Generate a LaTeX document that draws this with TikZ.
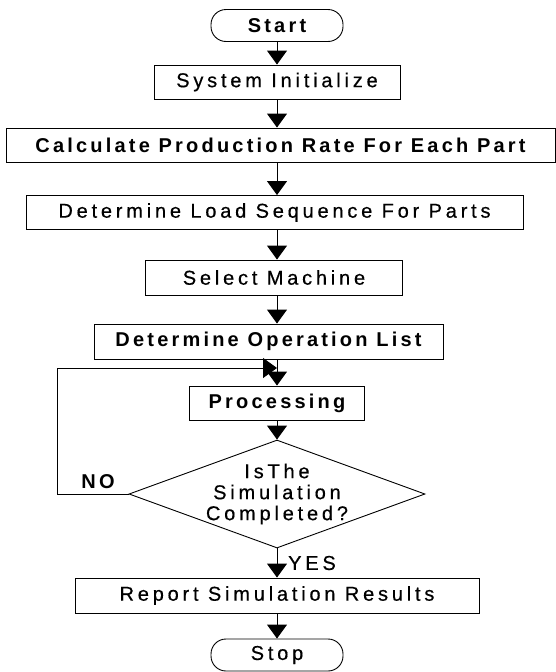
\documentclass[tikz,border=0pt]{standalone}
\usepackage{fontspec}
\setmainfont{Liberation Sans}[LetterSpace=19, FakeBold=0.5]
\newfontfamily\heavyfont{Liberation Sans Bold}[LetterSpace=16]
\usetikzlibrary{arrows.meta,shapes.geometric}
\begin{document}
\begin{tikzpicture}[x=1pt,y=-1pt,
  every node/.style={font=\fontsize{20}{21}\selectfont, inner sep=0pt},
  bold/.style={font=\fontsize{20}{21}\selectfont\heavyfont},
  box/.style={draw, line width=0.9pt, minimum height=34pt},
  term/.style={draw, line width=0.9pt, rounded corners=15pt, minimum height=32pt, minimum width=132pt},
  arr/.style={line width=1pt, -{Triangle[width=20pt,length=14pt]}},
  link/.style={line width=1pt}]
\useasboundingbox (0,0) rectangle (556,672);

% process steps
\node[term, bold] (start) at (277,25.5) {Start};
\node[box, minimum width=246pt] (sys) at (277,82) {System Initialize};
\node[box, bold, minimum width=549pt] (calc) at (280.5,145) {Calculate Production Rate For Each Part};
\node[box, minimum width=497pt] (load) at (274.5,212.5) {Determine Load Sequence For Parts};
\node[box, minimum width=257pt, minimum height=35pt] (sel) at (274,277.5) {Select Machine};
\node[box, bold, minimum width=349pt, minimum height=35pt] (dol) at (268.5,341.5) {Determine Operation List};
\node[box, bold, minimum width=175pt] (proc) at (277,403) {Processing};
\node[diamond, draw, line width=0.9pt, aspect=2.74, minimum width=296pt, minimum height=108pt,
      inner sep=-6pt, align=center] (dia) at (277,494) {IsThe\\Simulation\\Completed?};
\node[box, minimum width=404pt, minimum height=35pt] (rep) at (277,595.5) {Report Simulation Results};
\node[term] (stop) at (277,655) {Stop};

% branch labels
\node[bold] (no) at (98,482) {NO};
\node (yes) at (312,563) {YES};

% main flow
\draw[arr] (start.south) -- (sys.north);
\draw[arr] (sys.south) -- (sys.south |- calc.north);
\draw[arr] (sys.south |- calc.south) -- (sys.south |- load.north);
\draw[arr] (sys.south |- load.south) -- (sys.south |- sel.north);
\draw[arr] (sys.south |- sel.south) -- (sys.south |- dol.north);
\draw[arr] (proc.north |- dol.south) -- (proc.north);
\draw[arr] (proc.south) -- (dia.north);
\draw[arr] (dia.south) -- (rep.north);
\draw[arr] (rep.south) -- (stop.north);

% loop back when the run is not finished
\coordinate (loopc) at (57,368);
\coordinate (merge) at (277,368);
\draw[link] (dia.west) -- (dia.west -| loopc) -- (loopc);
\draw[arr] (loopc) -- (merge);
\end{tikzpicture}
\end{document}
